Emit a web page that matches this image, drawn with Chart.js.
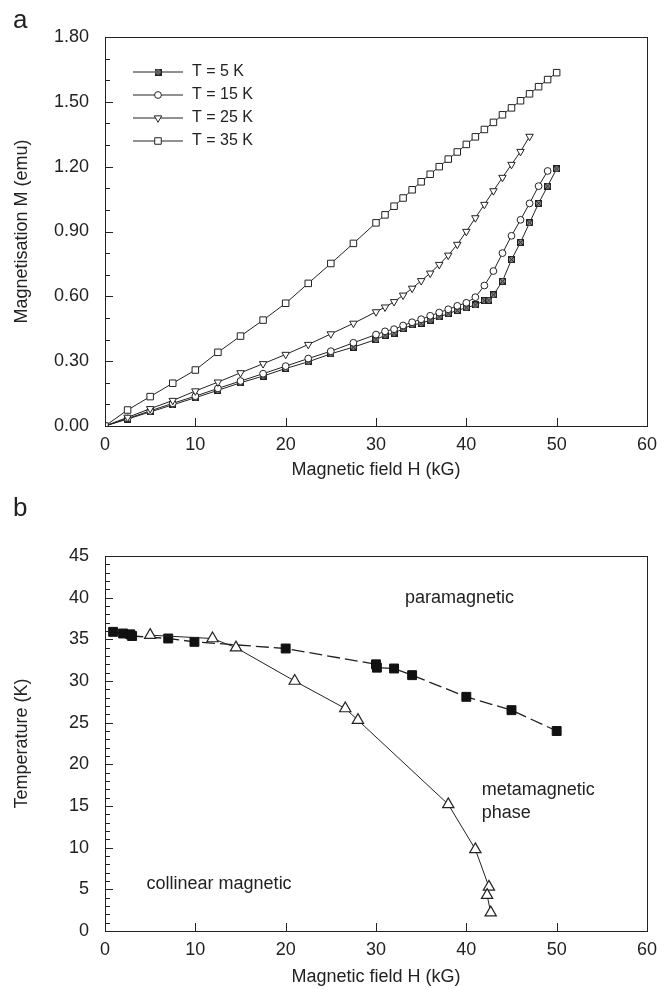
<!DOCTYPE html>
<html>
<head>
<meta charset="utf-8">
<script src="https://cdn.jsdelivr.net/npm/chart.js@4.4.1/dist/chart.umd.min.js"></script>
<style>
  body { margin: 0; background: #fff; }
  #wrap { position: relative; width: 665px; height: 989px; overflow: hidden; }
  .panel { position: absolute; left: 0; width: 665px; }
  .tag { position: absolute; left: 13px; font: 26px "Liberation Sans", Arial, sans-serif; color: #222; }
</style>
</head>
<body>
<div id="wrap">
  <div class="panel" style="top:0;height:490px"><canvas id="chartA" width="665" height="490"></canvas></div>
  <div class="panel" style="top:490px;height:499px"><canvas id="chartB" width="665" height="499"></canvas></div>
  <div class="tag" style="top:4px">a</div>
  <div class="tag" style="top:492px">b</div>
</div>
<script>
//  DATA  (panel a : magnetisation curves)
var H_5K = [0, 2.5, 5, 7.5, 10, 12.5, 15, 17.5, 20, 22.5, 25, 27.5, 30, 31, 32, 33, 34, 35, 36, 37, 38, 39, 40, 41, 42, 42.5, 43, 44, 45, 46, 47, 48, 49, 50];
var M_5K = [0, 0.032, 0.065, 0.098, 0.131, 0.165, 0.2, 0.231, 0.266, 0.297, 0.334, 0.365, 0.4, 0.42, 0.43, 0.45, 0.468, 0.475, 0.49, 0.505, 0.52, 0.535, 0.547, 0.56, 0.58, 0.582, 0.607, 0.67, 0.77, 0.85, 0.94, 1.03, 1.11, 1.19];

var H_15K = [0, 2.5, 5, 7.5, 10, 12.5, 15, 17.5, 20, 22.5, 25, 27.5, 30, 31, 32, 33, 34, 35, 36, 37, 38, 39, 40, 41, 42, 43, 44, 45, 46, 47, 48, 49];
var M_15K = [0, 0.035, 0.07, 0.105, 0.138, 0.174, 0.208, 0.242, 0.277, 0.312, 0.346, 0.385, 0.423, 0.438, 0.448, 0.465, 0.48, 0.494, 0.51, 0.525, 0.54, 0.556, 0.57, 0.596, 0.65, 0.717, 0.8, 0.88, 0.954, 1.03, 1.11, 1.18];

var H_25K = [0, 2.5, 5, 7.5, 10, 12.5, 15, 17.5, 20, 22.5, 25, 27.5, 30, 31, 32, 33, 34, 35, 36, 37, 38, 39, 40, 41, 42, 43, 44, 45, 46, 47];
var M_25K = [0, 0.04, 0.08, 0.118, 0.162, 0.203, 0.246, 0.288, 0.331, 0.377, 0.426, 0.475, 0.528, 0.55, 0.575, 0.605, 0.637, 0.672, 0.707, 0.747, 0.79, 0.84, 0.9, 0.963, 1.025, 1.088, 1.15, 1.21, 1.27, 1.34];

var H_35K = [0, 2.5, 5, 7.5, 10, 12.5, 15, 17.5, 20, 22.5, 25, 27.5, 30, 31, 32, 33, 34, 35, 36, 37, 38, 39, 40, 41, 42, 43, 44, 45, 46, 47, 48, 49, 50];
var M_35K = [0, 0.074, 0.136, 0.198, 0.259, 0.341, 0.416, 0.49, 0.568, 0.66, 0.752, 0.845, 0.94, 0.977, 1.017, 1.055, 1.093, 1.13, 1.165, 1.2, 1.235, 1.268, 1.303, 1.338, 1.372, 1.405, 1.44, 1.472, 1.505, 1.537, 1.57, 1.603, 1.635];

var LEGEND_A = ["T = 5 K", "T = 15 K", "T = 25 K", "T = 35 K"];

//  DATA  (panel b : phase diagram)
var H_PARA = [0.9, 2.0, 2.8, 3.0, 7.0, 9.9, 20, 30, 30.1, 32, 34, 40, 45, 50];
var T_PARA = [35.9, 35.7, 35.6, 35.4, 35.1, 34.7, 33.9, 32.0, 31.6, 31.5, 30.7, 28.1, 26.5, 24.0];

var H_META = [5.0, 11.9, 14.5, 21, 26.6, 28, 38, 41, 42.5, 42.3, 42.7];
var T_META = [35.5, 35.1, 34.0, 30.0, 26.7, 25.3, 15.2, 9.8, 5.3, 4.3, 2.2];

//  HELPERS
var FONT = '"Liberation Sans", Arial, sans-serif';
var INK = "#222";
Chart.defaults.font.family = FONT;
Chart.defaults.color = INK;

function pts(xs, ys) {
  var out = [];
  for (var i = 0; i < xs.length; i++) out.push({ x: xs[i], y: ys[i] });
  return out;
}

// square with a cross in it (T = 5 K marker)
function crossBox(size) {
  var c = document.createElement("canvas");
  c.width = size;
  c.height = size;
  var g = c.getContext("2d");
  g.fillStyle = "#888";
  g.fillRect(0, 0, size, size);
  g.strokeStyle = INK;
  g.lineWidth = 1;
  g.strokeRect(0.5, 0.5, size - 1, size - 1);
  g.beginPath();
  g.moveTo(1, 1); g.lineTo(size - 1, size - 1);
  g.moveTo(size - 1, 1); g.lineTo(1, size - 1);
  g.stroke();
  return c;
}

//  PLUGINS
// frame + inward ticks
var frameTicks = {
  id: "frameTicks",
  afterDatasetsDraw: function (chart, args, o) {
    var ctx = chart.ctx, a = chart.chartArea;
    var xs = chart.scales.x, ys = chart.scales.y;
    ctx.save();
    ctx.strokeStyle = INK;
    ctx.lineWidth = 1;
    ctx.strokeRect(Math.round(a.left) + 0.5, Math.round(a.top) + 0.5,
      Math.round(a.right - a.left), Math.round(a.bottom - a.top));
    ctx.beginPath();
    var n = Math.round(o.yMax / o.yMinor);
    var every = Math.round(o.yMajor / o.yMinor);
    for (var i = 0; i <= n; i++) {
      var y = Math.round(ys.getPixelForValue(i * o.yMinor)) + 0.5;
      var len = i % every === 0 ? 8 : 5;
      ctx.moveTo(a.left, y);
      ctx.lineTo(a.left + len, y);
    }
    var m = Math.round(o.xMax / o.xMajor);
    for (var j = 0; j <= m; j++) {
      var x = Math.round(xs.getPixelForValue(j * o.xMajor)) + 0.5;
      ctx.moveTo(x, a.bottom);
      ctx.lineTo(x, a.bottom - 8);
    }
    ctx.stroke();
    ctx.restore();
  }
};

// legend of panel a: line with marker in the middle
var lineLegend = {
  id: "lineLegend",
  afterDraw: function (chart, args, o) {
    if (!o.labels) return;
    var ctx = chart.ctx, a = chart.chartArea;
    ctx.save();
    ctx.font = "16px " + FONT;
    ctx.textBaseline = "middle";
    for (var i = 0; i < o.labels.length; i++) {
      var ds = chart.data.datasets[o.order[i]];
      var y = a.top + 35 + i * 23;
      var x0 = a.left + 28;
      ctx.strokeStyle = INK;
      ctx.lineWidth = 1;
      ctx.beginPath();
      ctx.moveTo(x0, y);
      ctx.lineTo(x0 + 50, y);
      ctx.stroke();
      ctx.fillStyle = ds.pointBackgroundColor;
      ctx.strokeStyle = ds.pointBorderColor;
      ctx.lineWidth = ds.pointBorderWidth;
      Chart.helpers.drawPoint(ctx, {
        pointStyle: ds.pointStyle,
        rotation: ds.pointRotation || 0,
        radius: ds.pointRadius,
        borderWidth: ds.pointBorderWidth
      }, x0 + 25, y);
      ctx.fillStyle = INK;
      ctx.fillText(o.labels[i], x0 + 59, y);
    }
    ctx.restore();
  }
};

// free text in data coordinates
var notes = {
  id: "notes",
  afterDraw: function (chart, args, o) {
    if (!o.items) return;
    var ctx = chart.ctx;
    ctx.save();
    ctx.font = "18px " + FONT;
    ctx.fillStyle = INK;
    ctx.textBaseline = "middle";
    o.items.forEach(function (it) {
      ctx.textAlign = it.align;
      ctx.fillText(it.text, chart.scales.x.getPixelForValue(it.h), chart.scales.y.getPixelForValue(it.t));
    });
    ctx.restore();
  }
};

function baseScales(yMax, yStep, yFmt, yTitle, xHeight) {
  return {
    x: {
      type: "linear", min: 0, max: 60,
      ticks: { stepSize: 10, padding: 8, font: { size: 18 } },
      grid: { display: false, drawTicks: false },
      border: { display: false },
      title: { display: true, text: "Magnetic field H (kG)", font: { size: 18 }, padding: 0 },
      afterFit: function (s) { s.height = xHeight; }
    },
    y: {
      type: "linear", min: 0, max: yMax,
      ticks: { stepSize: yStep, padding: 16, font: { size: 18 }, callback: yFmt },
      grid: { display: false, drawTicks: false },
      border: { display: false },
      title: { display: true, text: yTitle, font: { size: 18 }, padding: { top: 11, bottom: 0 } },
      afterFit: function (s) { s.width = 105; }
    }
  };
}

//  CHART A
var markA = { pointBorderColor: INK, pointBorderWidth: 1, borderColor: INK, borderWidth: 1, showLine: true, tension: 0 };

new Chart(document.getElementById("chartA"), {
  type: "scatter",
  data: {
    datasets: [
      Object.assign({ data: pts(H_35K, M_35K), pointStyle: "rect", pointRadius: 4.6, pointBackgroundColor: "#fff" }, markA),
      Object.assign({ data: pts(H_25K, M_25K), pointStyle: "triangle", pointRotation: 180, pointRadius: 4.3, pointBackgroundColor: "#fff" }, markA),
      Object.assign({ data: pts(H_15K, M_15K), pointStyle: "circle", pointRadius: 3.4, pointBackgroundColor: "#fff" }, markA),
      Object.assign({ data: pts(H_5K, M_5K), pointStyle: crossBox(7), pointRadius: 3.5, pointBackgroundColor: "#888" }, markA)
    ]
  },
  options: {
    responsive: false,
    animation: false,
    events: [],
    layout: { padding: { left: 0, right: 16, top: 37, bottom: 9 } },
    plugins: {
      legend: { display: false },
      tooltip: { enabled: false },
      frameTicks: { yMax: 1.8, yMinor: 0.1, yMajor: 0.3, xMax: 60, xMajor: 10 },
      lineLegend: { labels: LEGEND_A, order: [3, 2, 1, 0] }
    },
    scales: baseScales(1.8, 0.3, function (v) { return v.toFixed(2); }, "Magnetisation M (emu)", 55)
  },
  plugins: [frameTicks, lineLegend]
});

//  CHART B
new Chart(document.getElementById("chartB"), {
  type: "scatter",
  data: {
    datasets: [
      {
        data: pts(H_META, T_META), showLine: true, tension: 0,
        borderColor: INK, borderWidth: 1,
        pointStyle: "triangle", pointRadius: 6.5,
        pointBackgroundColor: "#fff", pointBorderColor: INK, pointBorderWidth: 1.2
      },
      {
        data: pts(H_PARA, T_PARA), showLine: true, tension: 0,
        borderColor: INK, borderWidth: 1.3, borderDash: [13, 5],
        pointStyle: "rect", pointRadius: 6.3,
        pointBackgroundColor: "#111", pointBorderColor: "#111", pointBorderWidth: 1
      }
    ]
  },
  options: {
    responsive: false,
    animation: false,
    events: [],
    layout: { padding: { left: 0, right: 16, top: 66, bottom: 1 } },
    plugins: {
      legend: { display: false },
      tooltip: { enabled: false },
      frameTicks: { yMax: 45, yMinor: 1, yMajor: 5, xMax: 60, xMajor: 10 },
      notes: {
        items: [
          { text: "paramagnetic", h: 39.25, t: 39.9, align: "center" },
          { text: "metamagnetic", h: 41.7, t: 16.9, align: "left" },
          { text: "phase", h: 41.7, t: 14.2, align: "left" },
          { text: "collinear magnetic", h: 4.6, t: 5.6, align: "left" }
        ]
      }
    },
    scales: baseScales(45, 5, function (v) { return v; }, "Temperature (K)", 57)
  },
  plugins: [frameTicks, notes]
});
</script>
</body>
</html>
